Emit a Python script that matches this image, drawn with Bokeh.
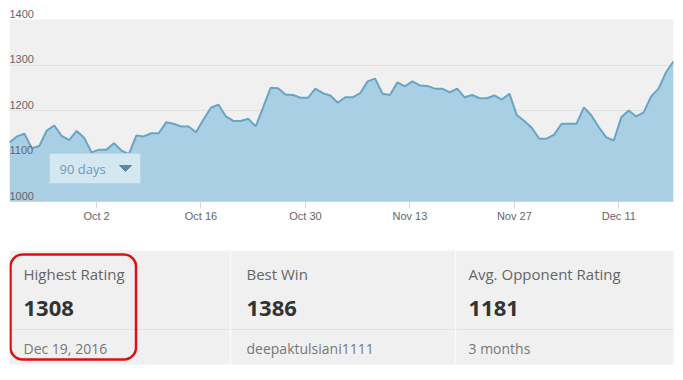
import pandas as pd
from bokeh.plotting import figure
from bokeh.layouts import column
from bokeh.models import Range1d, FixedTicker, LabelSet, ColumnDataSource
from bokeh.core.properties import value
from bokeh.embed import file_html
from bokeh.resources import INLINE

# ---------------- data ----------------
ratings = [1130, 1143, 1149, 1117, 1122, 1156, 1167, 1144, 1135, 1155,
           1140, 1108, 1114, 1114, 1128, 1112, 1104, 1145, 1143, 1150,
           1150, 1174, 1171, 1165, 1165, 1152, 1180, 1206, 1213, 1187,
           1177, 1177, 1182, 1165, 1207, 1250, 1249, 1235, 1234, 1228,
           1228, 1248, 1238, 1233, 1217, 1229, 1229, 1238, 1264, 1270,
           1237, 1234, 1262, 1253, 1264, 1255, 1254, 1248, 1248, 1240,
           1248, 1229, 1234, 1227, 1227, 1233, 1224, 1237, 1190, 1177,
           1162, 1138, 1138, 1147, 1171, 1171, 1171, 1207, 1189, 1163,
           1141, 1134, 1185, 1200, 1187, 1196, 1231, 1248, 1284, 1308]
first_day = "2016-09-20 08:00"
y_ticks = [1000, 1100, 1200, 1300, 1400]
x_tick_dates = ["2016-10-02", "2016-10-16", "2016-10-30",
                "2016-11-13", "2016-11-27", "2016-12-11"]
x_tick_labels = ["Oct 2", "Oct 16", "Oct 30", "Nov 13", "Nov 27", "Dec 11"]
range_label = "90 days"

stat_titles = ["Highest Rating", "Best Win", "Avg. Opponent Rating"]
stat_values = ["1308", "1386", "1181"]
stat_subs = ["Dec 19, 2016", "deepaktulsiani1111", "3 months"]

# ---------------- chart ----------------
dates = pd.date_range(pd.Timestamp(first_day), periods=len(ratings), freq="D")
src = ColumnDataSource(dict(x=dates, r=ratings))

W, H = 675, 231
BL, BR, BB = 9, 2, 30
TOP = 19                      # white gap above the plotting area (for the 1400 label)
FW = W - BL - BR
PH = H - BB - TOP             # height of the grey plotting area

x0, x1 = dates[0], dates[-1]
y0, y1 = y_ticks[0], y_ticks[-1]
upp = (y1 - y0) / PH          # data units per pixel
y_top = y1 + TOP * upp

p = figure(width=W, height=H, x_axis_type="datetime", y_axis_location=None,
           output_backend="svg", toolbar_location=None,
           x_range=Range1d(x0, x1), y_range=Range1d(y0, y_top),
           min_border_left=BL, min_border_right=BR,
           min_border_top=0, min_border_bottom=BB)
p.background_fill_color = "white"
p.border_fill_color = "white"
p.outline_line_color = None
p.xgrid.grid_line_color = None
p.ygrid.ticker = FixedTicker(ticks=y_ticks[1:-1])
p.ygrid.grid_line_color = "#e2e2e2"

# grey plotting area behind the grid
p.quad(left=[x0], right=[x1], bottom=[y0], top=[y1],
       fill_color="#f0f0f0", line_color=None, level="image")

tick_ms = [int(pd.Timestamp(d).value // 10**6) for d in x_tick_dates]
ax = p.xaxis[0]
ax.ticker = FixedTicker(ticks=tick_ms)
ax.major_label_overrides = {t: l for t, l in zip(tick_ms, x_tick_labels)}
ax.axis_line_color = "#ccd6eb"
ax.major_tick_line_color = "#ccd6eb"
ax.major_tick_out = 7
ax.major_tick_in = 0
ax.minor_tick_line_color = None
ax.major_label_standoff = 1
ax.major_label_text_font = "Liberation Sans"
ax.major_label_text_font_size = "11px"
ax.major_label_text_color = "#666666"

p.varea(x="x", y1=y0, y2="r", source=src, fill_color="#a8cfe3")
p.line(x="x", y="r", source=src, line_color="#68a5c5", line_width=2)

lab_src = ColumnDataSource(dict(x=[x0] * len(y_ticks), y=y_ticks,
                                t=[str(v) for v in y_ticks]))
p.add_layout(LabelSet(x="x", y="y", text="t", source=lab_src,
                      text_align="left", text_baseline="bottom", y_offset=2,
                      text_font=value("Liberation Sans"),
                      text_font_size="11px", text_color="#666666"))

# dropdown overlay, placed in pixels relative to the grey plotting area
span = x1 - x0
def px_x(px):
    return x0 + span * (px / FW)
def px_y(py):
    return y1 - py * upp

p.quad(left=[px_x(40)], right=[px_x(131)], top=[px_y(134)], bottom=[px_y(164)],
       fill_color="#d4e8f2", line_color="#b6d6e6", line_width=1)
p.text(x=[px_x(50)], y=[px_y(149)], text=[range_label],
       text_baseline="middle", text_align="left",
       text_font=value("Open Sans"), text_font_size="13px",
       text_color="#6b9ab6")
p.patch(x=[px_x(110), px_x(122), px_x(116)], y=[px_y(146), px_y(146), px_y(152)],
        fill_color="#5c89a5", line_color="#5c89a5", line_width=1)

# ---------------- stats panel (1 data unit = 1 page pixel) ----------------
# Bokeh aligns frames of plots in a column, so use the same side borders
SH = 140
q = figure(width=W, height=SH, output_backend="svg", toolbar_location=None,
           x_range=Range1d(BL, W - BR), y_range=Range1d(SH, 0),
           x_axis_location=None, y_axis_location=None,
           min_border_left=BL, min_border_right=BR,
           min_border_top=0, min_border_bottom=0)
q.grid.visible = False
q.outline_line_color = None
q.background_fill_color = "white"
q.border_fill_color = "white"

PL, PR, PT, PB = 8, 674, 19, 133
q.quad(left=[PL], right=[PR], top=[PT], bottom=[PB],
       fill_color="#f0f0f0", line_color=None, border_radius=3)
q.segment(x0=[PL], y0=[98], x1=[PR], y1=[98], line_color="#e2e2e2", line_width=1)
col_x = [23, 246, 468]
div_x = [230, 455]
q.segment(x0=div_x, y0=[PT] * 2, x1=div_x, y1=[PB] * 2,
          line_color="#fafafa", line_width=1.5)

q.text(x=col_x, y=[42] * 3, text=stat_titles, text_baseline="middle",
       text_font=value("Open Sans"), text_font_size="15px", text_color="#666666")
q.text(x=col_x, y=[77] * 3, text=stat_values, text_baseline="middle",
       text_font=value("Open Sans"), text_font_size="22px",
       text_font_style="bold", text_color="#333333")
q.text(x=col_x, y=[117] * 3, text=stat_subs, text_baseline="middle",
       text_font=value("Open Sans"), text_font_size="14px", text_color="#777777")

q.quad(left=[10], right=[135.5], top=[23], bottom=[128],
       fill_color=None, line_color="#dd1111", line_width=2.5, border_radius=12)

layout = column(p, q, spacing=0)
open("out.html", "w").write(file_html(layout, INLINE))
